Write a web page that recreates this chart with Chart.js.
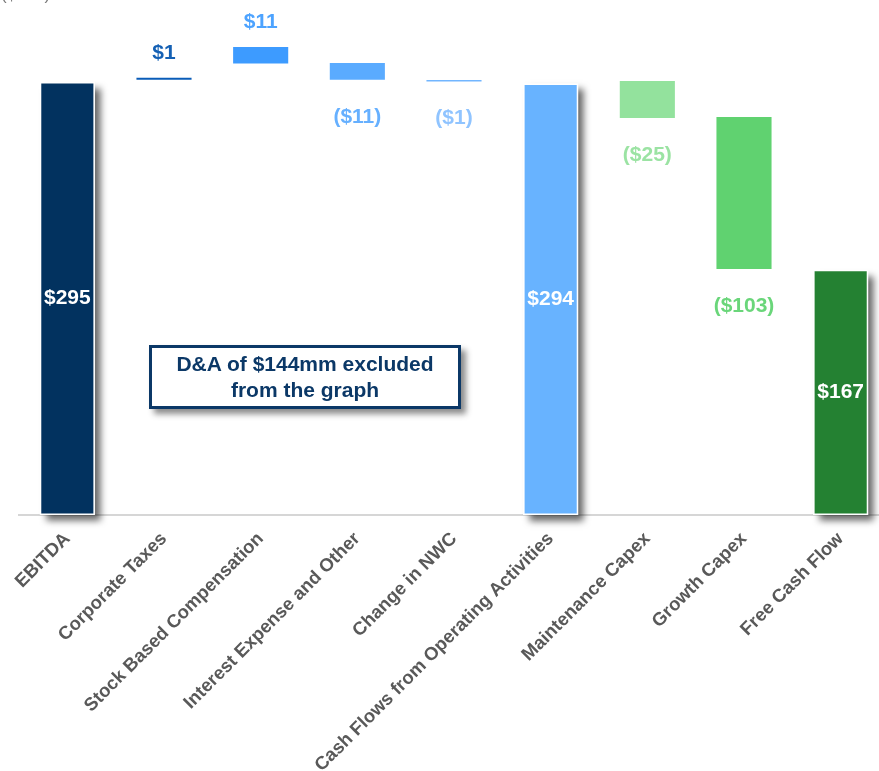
<!DOCTYPE html>
<html lang="en">
<head>
<meta charset="UTF-8" />
<title>EBITDA to Free Cash Flow</title>
<script src="https://cdn.jsdelivr.net/npm/chart.js"></script>
<style>
  html, body {
    margin: 0;
    padding: 0;
    background: #fff;
    width: 879px;
    height: 771px;
    overflow: hidden;
  }
  .wrap {
    position: absolute;
    left: 0;
    top: 0;
    width: 900px;
    height: 771px;
  }
  .unit {
    position: absolute;
    left: 1px;
    top: -15px;
    font: 17px 'Liberation Sans', Arial, sans-serif;
    color: #7a7a7a;
  }
  .note {
    position: absolute;
    left: 149px;
    top: 345px;
    width: 306px;
    height: 58px;
    border: 3px solid #0b3867;
    background: #fff;
    box-shadow: 5px 5px 6px rgba(0,0,0,0.45);
    color: #0b3867;
    font: bold 21px 'Liberation Sans', Arial, sans-serif;
    line-height: 26px;
    text-align: center;
    display: flex;
    align-items: center;
    justify-content: center;
  }
</style>
</head>
<body>
  <div class="wrap">
    <canvas id="chart" width="900" height="771"></canvas>
  </div>
  <div class="unit">($mm)</div>
  <div class="note">D&amp;A of $144mm excluded<br>from the graph</div>

<script>
  // values
  const categories = [
    'EBITDA',
    'Corporate Taxes',
    'Stock Based Compensation',
    'Interest Expense and Other',
    'Change in NWC',
    'Cash Flows from Operating Activities',
    'Maintenance Capex',
    'Growth Capex',
    'Free Cash Flow'
  ];
  const amounts = [295, 1, 11, -11, -1, 294, -25, -103, 167];
  // where each bar starts and ends on the value axis
  const barFrom = [0, 296.5, 307.5, 296.4, 295.2, 0, 270.5, 167.5, 0];
  const barTo = [295, 297.8, 318.8, 307.9, 296.3, 294, 295.6, 271.1, 167];
  const isTotal = [true, false, false, false, false, true, false, false, true];

  const barColors = ['#02325f', '#0a5cb8', '#3d9bff', '#5aabff', '#72b6ff', '#68b3ff', '#93e29d', '#60d270', '#248132'];
  const labelColors = ['#ffffff', '#1460b4', '#4da3ff', '#66b0ff', '#90c4ff', '#ffffff', '#9be3a3', '#6ad67a', '#ffffff'];

  const FONT = "'Liberation Sans', Arial, sans-serif";

  function fmt(v) {
    return v < 0 ? '($' + Math.abs(v) + ')' : '$' + v;
  }

  // drop shadow behind the total bars
  const barShadow = {
    id: 'barShadow',
    beforeDatasetsDraw(chart) {
      const ctx = chart.ctx;
      const meta = chart.getDatasetMeta(0);
      ctx.save();
      ctx.shadowColor = 'rgba(0,0,0,0.6)';
      ctx.shadowBlur = 7;
      ctx.shadowOffsetX = 6;
      ctx.shadowOffsetY = 6;
      ctx.fillStyle = '#fff';
      meta.data.forEach((bar, i) => {
        if (!isTotal[i]) return;
        const w = bar.width;
        ctx.fillRect(bar.x - w / 2, bar.y, w, bar.base - bar.y);
      });
      ctx.restore();
    }
  };

  const valueLabels = {
    id: 'valueLabels',
    afterDatasetsDraw(chart) {
      const ctx = chart.ctx;
      const meta = chart.getDatasetMeta(0);
      ctx.save();
      ctx.font = 'bold 21px ' + FONT;
      ctx.textAlign = 'center';
      ctx.textBaseline = 'middle';
      meta.data.forEach((bar, i) => {
        const top = Math.min(bar.y, bar.base);
        const bottom = Math.max(bar.y, bar.base);
        let y;
        if (isTotal[i]) y = (top + bottom) / 2;
        else if (amounts[i] > 0) y = top - 25;
        else y = bottom + 37;
        ctx.fillStyle = labelColors[i];
        ctx.fillText(fmt(amounts[i]), bar.x, y);
      });
      ctx.restore();
    }
  };

  new Chart(document.getElementById('chart'), {
    type: 'bar',
    data: {
      labels: categories,
      datasets: [{
        data: categories.map((c, i) => [barFrom[i], barTo[i]]),
        backgroundColor: barColors,
        borderColor: '#ffffff',
        borderWidth: isTotal.map(t => t ? 1.5 : 0),
        borderSkipped: false,
        barPercentage: 0.57,
        categoryPercentage: 1
      }]
    },
    options: {
      responsive: false,
      animation: false,
      layout: { padding: { left: 19, right: 11, top: 0, bottom: 0 } },
      plugins: {
        legend: { display: false },
        tooltip: { enabled: false }
      },
      scales: {
        x: {
          grid: { display: false, drawTicks: false },
          border: { display: true, color: '#d6d6d6', width: 2 },
          ticks: {
            autoSkip: false,
            minRotation: 45,
            maxRotation: 45,
            padding: 13,
            color: '#595959',
            font: { family: FONT, size: 18.5, weight: 'bold' }
          },
          afterFit(scale) { scale.height = 256; }
        },
        y: { display: false, min: 0, max: 350.8 }
      }
    },
    plugins: [barShadow, valueLabels]
  });
</script>
</body>
</html>
